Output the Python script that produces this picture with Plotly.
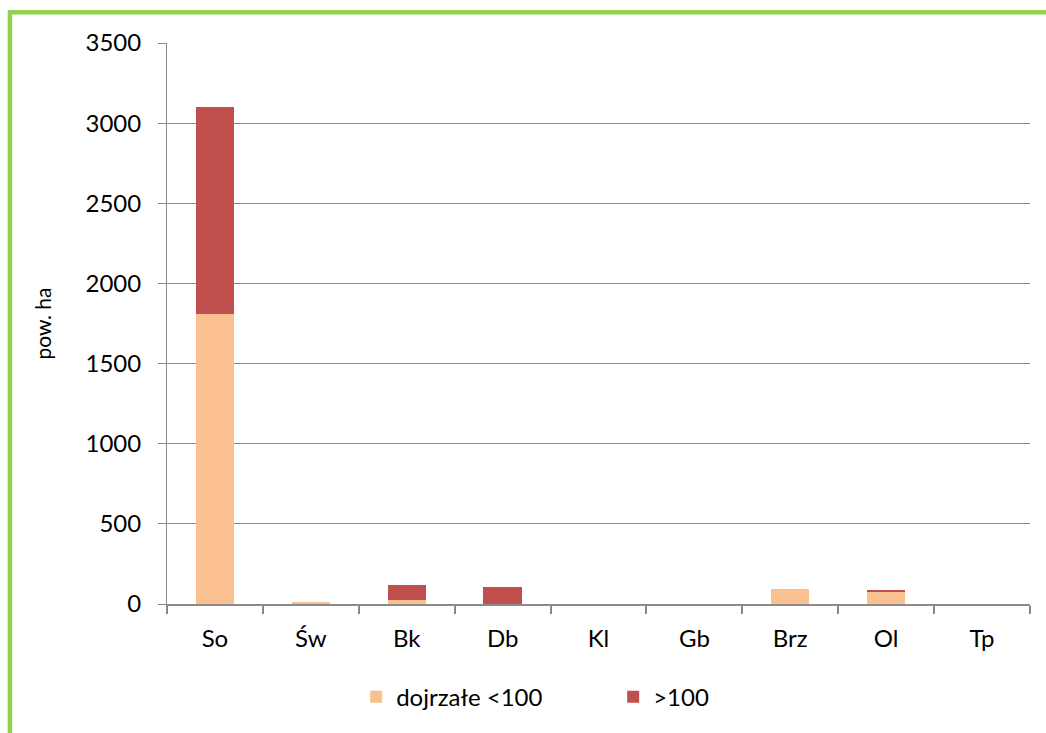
import plotly.graph_objects as go

categories = ["So", "Św", "Bk", "Db", "Kl", "Gb", "Brz", "Ol", "Tp"]
dojrzale = [1810, 13, 22, 3, 0, 0, 95, 80, 0]
ponad_100 = [1290, 0, 98, 102, 0, 0, 0, 4, 0]

fnt = "Lato, 'Open Sans', sans-serif"

fig = go.Figure()
fig.add_trace(go.Bar(x=categories, y=dojrzale, name="dojrzałe <100",
                     marker=dict(color="#FAC090", line=dict(width=0))))
fig.add_trace(go.Bar(x=categories, y=ponad_100, name=">100",
                     marker=dict(color="#C0504D", line=dict(width=0))))

fig.update_layout(
    barmode="stack",
    bargap=0.6,
    width=1046, height=733,
    margin=dict(l=167, r=16, t=43, b=129),
    paper_bgcolor="white", plot_bgcolor="white",
    font=dict(family=fnt, size=24, color="#000000"),
    legend=dict(orientation="h", x=0.517, xanchor="center", y=-0.166, yanchor="middle",
                font=dict(size=24), entrywidth=212, itemwidth=30, traceorder="normal"),
    showlegend=True,
)
fig.update_yaxes(range=[0, 3500], dtick=500, showgrid=True, gridcolor="#8a8a8a",
                 gridwidth=1, showline=True, linecolor="#8a8a8a", linewidth=1,
                 ticks="outside", ticklen=8, tickcolor="#8a8a8a", zeroline=False,
                 ticklabelstandoff=12,
                 title=dict(text="pow. ha", font=dict(size=21), standoff=28))
fig.update_xaxes(showline=True, linecolor="#8a8a8a", linewidth=2, ticks="outside",
                 tickson="boundaries", ticklen=8, tickcolor="#8a8a8a", tickwidth=2,
                 ticklabelstandoff=12)

# green frame around the chart
fig.add_shape(type="rect", xref="paper", yref="paper",
              x0=-0.182, x1=1.2, y0=-0.6, y1=1.055,
              line=dict(color="#92D050", width=4.5), layer="below")

fig.write_html("out.html", config={"displayModeBar": False},
               post_script="document.body.style.margin='0px';")
